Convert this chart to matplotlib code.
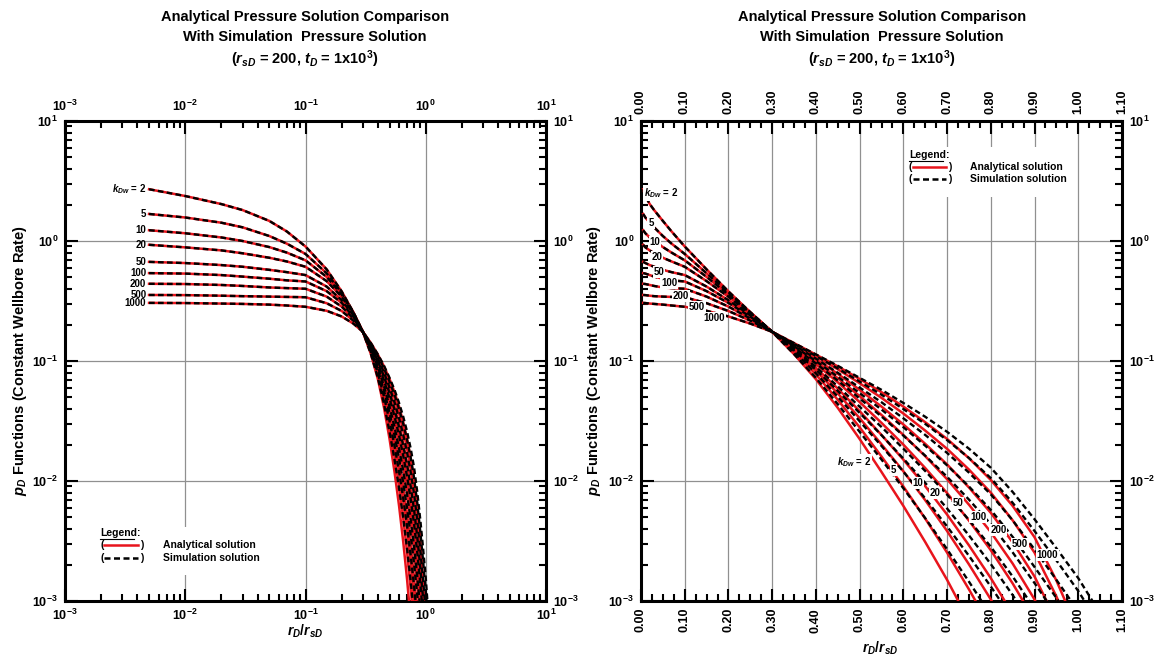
import numpy as np
import matplotlib.pyplot as plt
from matplotlib.ticker import LogLocator, MultipleLocator, FuncFormatter, NullFormatter, FormatStrFormatter
from matplotlib.patches import Rectangle

plt.rcParams['font.family'] = 'Liberation Sans'
plt.rcParams['font.weight'] = 'bold'
plt.rcParams['axes.labelweight'] = 'bold'
plt.rcParams['mathtext.fontset'] = 'custom'
plt.rcParams['mathtext.rm'] = 'Liberation Sans:bold'
plt.rcParams['mathtext.it'] = 'Liberation Sans:italic:bold'
plt.rcParams['mathtext.bf'] = 'Liberation Sans:bold'

# dimensionless well storage values of the curve family
kdw = [2, 5, 10, 20, 50, 100, 200, 500, 1000]

# rD/rsD sampling positions
rd_rsd = [0.005, 0.01, 0.02, 0.03, 0.05, 0.07, 0.1, 0.15, 0.2, 0.25, 0.3,
          0.35, 0.4, 0.45, 0.5, 0.55, 0.6, 0.65, 0.7, 0.75, 0.8, 0.85,
          0.9, 0.95, 1.0, 1.05]

# analytical pD values, one list per kDw
pd_analytical = [
    [2.7, 2.37, 2.03, 1.81, 1.47, 1.2, 0.9, 0.58, 0.38, 0.255, 0.175,
     0.114, 0.0705, 0.0407, 0.0224, 0.0119, 0.0062, 0.0031, 0.0015, 0.00068],
    [1.68, 1.57, 1.42, 1.30, 1.10, 0.95, 0.78, 0.538, 0.37, 0.254, 0.175,
     0.119, 0.0773, 0.0475, 0.028, 0.016, 0.009, 0.00486, 0.00253, 0.00125, 0.0006],
    [1.23, 1.16, 1.07, 1.00, 0.89, 0.80, 0.69, 0.502, 0.358, 0.252, 0.175,
     0.1227, 0.083, 0.0537, 0.0334, 0.0202, 0.01205, 0.00692, 0.00383, 0.00202, 0.00103, 0.000495],
    [0.93, 0.885, 0.835, 0.79, 0.725, 0.675, 0.61, 0.463, 0.343, 0.247, 0.175,
     0.126, 0.0877, 0.0589, 0.0382, 0.0242, 0.01507, 0.00905, 0.00525, 0.00291, 0.00155, 0.00078],
    [0.67, 0.655, 0.63, 0.61, 0.575, 0.55, 0.52, 0.417, 0.321, 0.24, 0.175,
     0.130, 0.0942, 0.0665, 0.0455, 0.0305, 0.0201, 0.01282, 0.00793, 0.00468, 0.00265, 0.0014, 0.00069],
    [0.54, 0.535, 0.52, 0.505, 0.485, 0.47, 0.46, 0.382, 0.305, 0.234, 0.175,
     0.1328, 0.0988, 0.0719, 0.051, 0.0355, 0.0242, 0.0161, 0.01035, 0.00635, 0.00375, 0.00205, 0.00103, 0.00043],
    [0.44, 0.438, 0.43, 0.422, 0.41, 0.405, 0.40, 0.344, 0.284, 0.226, 0.175,
     0.1358, 0.1038, 0.0782, 0.0575, 0.0417, 0.0296, 0.0204, 0.01374, 0.00883, 0.00543, 0.00308, 0.0016, 0.00068],
    [0.355, 0.354, 0.35, 0.347, 0.344, 0.342, 0.34, 0.303, 0.261, 0.217, 0.175,
     0.139, 0.1094, 0.0853, 0.0653, 0.0493, 0.0365, 0.0263, 0.01853, 0.01245, 0.008, 0.0047, 0.00253, 0.00109, 0.00042],
    [0.305, 0.304, 0.301, 0.299, 0.295, 0.29, 0.283, 0.262, 0.235, 0.205, 0.175,
     0.141, 0.113, 0.0902, 0.0708, 0.055, 0.0417, 0.0309, 0.0224, 0.0155, 0.0102, 0.0062, 0.0034, 0.00148, 0.00056],
]

# simulation pD values from rD/rsD = 0.35 on (identical to analytical before that)
pd_sim_tail = [
    [0.114, 0.0724, 0.0437, 0.0257, 0.0151, 0.0087, 0.0049, 0.0027, 0.00145, 0.00076],
    [0.119, 0.079, 0.0504, 0.0315, 0.0196, 0.01197, 0.00716, 0.00418, 0.00238, 0.00132, 0.000703],
    [0.1227, 0.0847, 0.0564, 0.0369, 0.0241, 0.01538, 0.00964, 0.0059, 0.00352, 0.00203, 0.00112, 0.00059],
    [0.126, 0.0893, 0.0615, 0.0416, 0.0282, 0.0186, 0.01211, 0.00769, 0.00474, 0.00283, 0.0016, 0.00086],
    [0.130, 0.0955, 0.0687, 0.0487, 0.0345, 0.0239, 0.01626, 0.01084, 0.007, 0.00436, 0.00254, 0.00141, 0.00076],
    [0.1328, 0.0998, 0.074, 0.054, 0.0394, 0.0281, 0.01968, 0.0135, 0.009, 0.00574, 0.00342, 0.00192, 0.00106, 0.00057],
    [0.1358, 0.1047, 0.0798, 0.0601, 0.0453, 0.0333, 0.0242, 0.01714, 0.01175, 0.00774, 0.0047, 0.00269, 0.0015, 0.00082],
    [0.139, 0.1102, 0.0867, 0.0674, 0.0524, 0.0398, 0.0299, 0.0219, 0.01556, 0.01057, 0.00658, 0.00383, 0.00218, 0.00121, 0.00062],
    [0.141, 0.1135, 0.0912, 0.0724, 0.0575, 0.0447, 0.0343, 0.0257, 0.0186, 0.0129, 0.0081, 0.0048, 0.00275, 0.00155, 0.00079],
]
n_head = 11

# curve label anchor points on the right chart
lab_top_x = [0.046, 0.023, 0.032, 0.037, 0.041, 0.064, 0.092, 0.128, 0.167]
lab_top_y = [2.5, 1.41, 0.98, 0.74, 0.55, 0.447, 0.35, 0.28, 0.23]
lab_bot_x = [0.487, 0.577, 0.634, 0.673, 0.725, 0.771, 0.817, 0.867, 0.929]
lab_bot_y = [0.0144, 0.0124, 0.0096, 0.0079, 0.0066, 0.005, 0.0039, 0.003, 0.0024]

RED = '#e8141c'


def klabel(i):
    return r'$k_{Dw}$ = 2' if i == 0 else str(kdw[i])


def pow10(v, pos):
    return r'$10^{%d}$' % int(round(np.log10(v)))


def style_axes(ax):
    ax.set_yscale('log')
    ax.set_ylim(1e-3, 10)
    ax.yaxis.set_major_locator(LogLocator(base=10, numticks=10))
    ax.yaxis.set_minor_locator(LogLocator(base=10, subs=np.arange(2, 10), numticks=10))
    ax.yaxis.set_major_formatter(FuncFormatter(pow10))
    ax.yaxis.set_minor_formatter(NullFormatter())
    ax.tick_params(which='both', direction='in', top=True, right=True,
                   labeltop=True, labelright=True, width=1.5, labelsize=9, pad=5)
    ax.tick_params(which='major', length=9)
    ax.tick_params(which='minor', length=5)
    for s in ax.spines.values():
        s.set_linewidth(2.2)
    ax.grid(True, which='major', color='#909090', lw=0.9)
    ax.set_axisbelow(True)


def draw_curves(ax):
    for i in range(len(kdw)):
        pa = pd_analytical[i]
        ps = pd_analytical[i][:n_head] + pd_sim_tail[i]
        ax.plot(rd_rsd[:len(pa)], pa, color=RED, lw=1.8, zorder=3)
        ax.plot(rd_rsd[:len(ps)], ps, color='black', lw=1.7,
                linestyle=(0, (2.4, 1.4)), zorder=4)


def draw_legend(ax, x0, y0, dy, xt, box):
    ax.add_patch(Rectangle((box[0], box[1]), box[2], box[3], transform=ax.transAxes,
                           facecolor='white', edgecolor='none', zorder=2))
    ax.text(x0, y0, 'Legend:', transform=ax.transAxes, fontsize=7.5,
            ha='left', va='center', zorder=5)
    ax.plot([x0, x0 + 0.07], [y0 - 0.012, y0 - 0.012], transform=ax.transAxes,
            color='black', lw=0.8, zorder=5)
    for j, (col, ls, txt) in enumerate([(RED, '-', 'Analytical solution'),
                                        ('black', (0, (2.4, 1.4)), 'Simulation solution')]):
        y = y0 - dy * (j + 1)
        ax.text(x0, y, '(', transform=ax.transAxes, fontsize=7.5, ha='left', va='center', zorder=5)
        ax.plot([x0 + 0.009, x0 + 0.078], [y, y], transform=ax.transAxes,
                color=col, lw=1.8, linestyle=ls, zorder=5)
        ax.text(x0 + 0.082, y, ')', transform=ax.transAxes, fontsize=7.5, ha='left', va='center', zorder=5)
        ax.text(xt, y, txt, transform=ax.transAxes, fontsize=7.5, ha='left', va='center', zorder=5)


fig = plt.figure(figsize=(11.58, 6.6), dpi=100)
ax1 = fig.add_axes([65 / 1158, 59 / 660, 481 / 1158, 480 / 660])
ax2 = fig.add_axes([641 / 1158, 59 / 660, 481 / 1158, 480 / 660])

# left: log-log
style_axes(ax1)
ax1.set_xscale('log')
ax1.set_xlim(1e-3, 10)
ax1.xaxis.set_major_locator(LogLocator(base=10, numticks=10))
ax1.xaxis.set_minor_locator(LogLocator(base=10, subs=np.arange(2, 10), numticks=10))
ax1.xaxis.set_major_formatter(FuncFormatter(pow10))
ax1.xaxis.set_minor_formatter(NullFormatter())
draw_curves(ax1)
for i in range(len(kdw)):
    ax1.text(rd_rsd[0] * 0.95, pd_analytical[i][0], klabel(i), fontsize=7,
             ha='right', va='center', zorder=5)
draw_legend(ax1, 0.073, 0.142, 0.026, 0.204, (0.062, 0.054, 0.355, 0.10))

# right: semi-log
style_axes(ax2)
ax2.set_xlim(0, 1.1)
ax2.xaxis.set_major_locator(MultipleLocator(0.1))
ax2.xaxis.set_minor_locator(MultipleLocator(0.025))
ax2.xaxis.set_major_formatter(FormatStrFormatter('%.2f'))
ax2.tick_params(axis='x', which='major', labelrotation=90)
draw_curves(ax2)
for i in range(len(kdw)):
    for lx, ly in [(lab_top_x[i], lab_top_y[i]), (lab_bot_x[i], lab_bot_y[i])]:
        ax2.text(lx, ly, klabel(i), fontsize=7, ha='center', va='center', zorder=6,
                 bbox=dict(facecolor='white', edgecolor='none', pad=0.6))
draw_legend(ax2, 0.557, 0.929, 0.025, 0.684, (0.549, 0.842, 0.347, 0.104))

for ax, cx in [(ax1, 305), (ax2, 882)]:
    ax.set_ylabel(r'$p_D$ Functions (Constant Wellbore Rate)', fontsize=10.5)
    ax.set_xlabel(r'$r_D/r_{sD}$', fontsize=10)
    fx = cx / 1158
    fig.text(fx, 1 - 17 / 660, 'Analytical Pressure Solution Comparison',
             ha='center', va='center', fontsize=10.5)
    fig.text(fx, 1 - 37 / 660, 'With Simulation  Pressure Solution',
             ha='center', va='center', fontsize=10.5)
    fig.text(fx, 1 - 59 / 660, r'($r_{sD}$ = 200, $t_D$ = 1x10$^3$)',
             ha='center', va='center', fontsize=10.5)

ax1.yaxis.set_label_coords(-0.075, 0.5)
ax2.yaxis.set_label_coords(-0.079, 0.5)
ax1.xaxis.set_label_coords(0.5, -0.044)
ax2.xaxis.set_label_coords(0.497, -0.081)

fig.savefig('out.png', dpi=100)
